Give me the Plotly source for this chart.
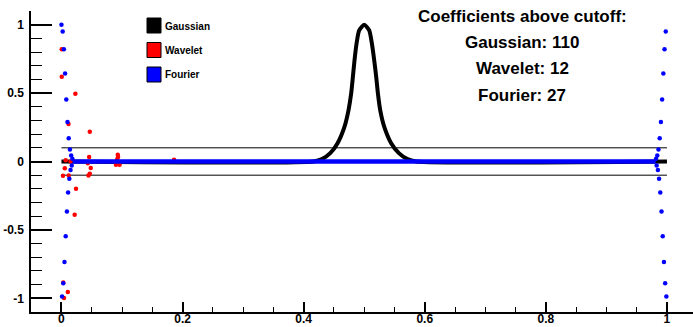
import plotly.graph_objects as go

# ---------------- data ----------------
gauss_x = [0.0, 0.4164, 0.4301, 0.4439, 0.4560, 0.4675, 0.4741, 0.4785, 0.4813, 0.4840,
           0.4873, 0.4917, 0.5, 0.5083, 0.5127, 0.5165, 0.5198, 0.5226, 0.5264, 0.5330,
           0.5445, 0.5572, 0.5715, 0.5858, 1.0]
gauss_y = [0.0, 0.0, 0.017, 0.061, 0.134, 0.255, 0.376, 0.498, 0.619, 0.74,
           0.861, 0.958, 1.0, 0.958, 0.861, 0.74, 0.619, 0.498, 0.376, 0.255,
           0.134, 0.061, 0.017, 0.0, 0.0]

wavelet_x = [0.0005, 0.0005, 0.023, 0.0116, 0.0468, 0.0457, 0.0435, 0.0055, 0.0484, 0.0025,
             0.012, 0.0468, 0.0446, 0.024, 0.0218, 0.003, 0.0105, 0.0042, 0.093, 0.0935,
             0.092, 0.090, 0.096, 0.094, 0.186, 0.007, 0.015]
wavelet_y = [0.82, 0.62, 0.495, 0.274, 0.217, 0.032, -0.012, -0.05, -0.048, -0.104,
             -0.102, -0.09, -0.102, -0.20, -0.39, -0.885, -0.953, -0.998, 0.049, 0.032,
             0.017, -0.024, -0.024, -0.01, 0.012, 0.01, 0.0]

fourier_x = [0.0, 0.001, 0.002, 0.003, 0.004, 0.005, 0.006, 0.007, 0.008, 0.009,
             0.010, 0.011, 0.012, 0.013, 0.014, 0.015, 0.016, 0.017, 0.018,
             0.999, 0.998, 0.997, 0.996, 0.995, 0.994, 0.993, 0.992, 0.991,
             0.990, 0.989, 0.988, 0.987, 0.986, 0.985, 0.984, 0.983, 0.982]
fourier_y = [1.0, -0.987, 0.951, -0.890, 0.820, -0.735, 0.643, -0.546, 0.454, -0.366,
             0.289, -0.226, 0.170, -0.126, 0.087, -0.063, 0.044, -0.030, 0.020,
             -0.987, 0.951, -0.890, 0.820, -0.735, 0.643, -0.546, 0.454, -0.366,
             0.289, -0.226, 0.170, -0.126, 0.087, -0.063, 0.044, -0.030, 0.020]
# the many near-zero Fourier coefficients (they merge into a thick band)
fourier_zero_x = [0.0185, 0.9815]
fourier_zero_y = [0.0, 0.0]

cutoff = 0.1
cut_x = [0.0, 1.0]

legend_names = ["Gaussian", "Wavelet", "Fourier"]
legend_colors = ["#000000", "#ff0000", "#0000ff"]
counts = [110, 12, 27]

x_tickvals = [0, 0.2, 0.4, 0.6, 0.8, 1.0]
x_ticktext = ["0", "0.2", "0.4", "0.6", "0.8", "1"]
y_tickvals = [-1, -0.5, 0, 0.5, 1]
y_ticktext = ["-1", "-0.5", "0", "0.5", "1"]

# ---------------- figure ----------------
FONT = "Liberation Sans, Arial, sans-serif"
fig = go.Figure()

fig.add_trace(go.Scatter(x=cut_x, y=[cutoff, cutoff], mode="lines",
                         line=dict(color="black", width=1), showlegend=False))
fig.add_trace(go.Scatter(x=cut_x, y=[-cutoff, -cutoff], mode="lines",
                         line=dict(color="black", width=1), showlegend=False))
fig.add_trace(go.Scatter(x=gauss_x, y=gauss_y, mode="lines",
                         line=dict(color="black", width=4, shape="spline", smoothing=0.6),
                         showlegend=False))
fig.add_trace(go.Scatter(x=wavelet_x, y=wavelet_y, mode="markers",
                         marker=dict(color="#ff0000", size=4.5), showlegend=False))
fig.add_trace(go.Scatter(x=fourier_zero_x, y=fourier_zero_y, mode="lines",
                         line=dict(color="#0000ff", width=4.5), showlegend=False))
fig.add_trace(go.Scatter(x=fourier_x, y=fourier_y, mode="markers",
                         marker=dict(color="#0000ff", size=4.5), showlegend=False))

# plot-area geometry in pixels
W, H = 693, 327
L, R, T, B = 31, 0, 11, 15
pw, ph = W - L - R, H - T - B

def px(xp):
    return (xp - L) / pw

def py(yp):
    return (H - B - yp) / ph

# legend boxes and labels
box_tops = [18, 42.5, 67]
for name, col, top in zip(legend_names, legend_colors, box_tops):
    fig.add_shape(type="rect", xref="paper", yref="paper",
                  x0=px(147), x1=px(161), y0=py(top + 15), y1=py(top),
                  fillcolor=col, line=dict(color="black", width=1))
    fig.add_annotation(xref="paper", yref="paper", x=px(163), y=py(top + 8),
                       text="<b>%s</b>" % name, showarrow=False,
                       xanchor="left", yanchor="middle",
                       font=dict(family=FONT, size=10, color="black"))

# text block
lines = ["Coefficients above cutoff:"] + ["%s: %d" % (n, c) for n, c in zip(legend_names, counts)]
line_y = [16, 42, 68.5, 95]
for txt, yy in zip(lines, line_y):
    fig.add_annotation(xref="paper", yref="paper", x=px(522), y=py(yy),
                       text="<b>%s</b>" % txt, showarrow=False,
                       xanchor="center", yanchor="middle",
                       font=dict(family=FONT, size=17, color="black"))

fig.update_layout(
    width=W, height=H,
    margin=dict(l=L, r=R, t=T, b=B, pad=0),
    paper_bgcolor="white", plot_bgcolor="white",
    showlegend=False,
)
fig.update_xaxes(
    range=[-0.0503, 1.043], showgrid=False, zeroline=False,
    showline=True, linecolor="black", linewidth=1.5,
    tickmode="array", tickvals=x_tickvals, ticktext=x_ticktext,
    ticks="inside", ticklen=10, tickwidth=1.5, tickcolor="black",
    minor=dict(tickmode="linear", tick0=0, dtick=0.05, ticks="inside",
               ticklen=5, tickwidth=1.2, tickcolor="black", showgrid=False),
    tickfont=dict(family=FONT, size=12, color="black", weight="bold"),
    ticklabelstandoff=-5,
    automargin=False,
)
fig.update_yaxes(
    range=[-1.1, 1.1], showgrid=False, zeroline=False,
    showline=True, linecolor="black", linewidth=1.5,
    tickmode="array", tickvals=y_tickvals, ticktext=y_ticktext,
    ticks="inside", ticklen=21, tickwidth=1.5, tickcolor="black",
    minor=dict(tickmode="linear", tick0=0, dtick=0.1, ticks="inside",
               ticklen=11, tickwidth=1.2, tickcolor="black", showgrid=False),
    tickfont=dict(family=FONT, size=12, color="black", weight="bold"),
    ticklabelstandoff=3,
    automargin=False,
)

fig.write_html("out.html", config={"displayModeBar": False},
               post_script="document.body.style.margin='0';document.body.style.padding='0';")
